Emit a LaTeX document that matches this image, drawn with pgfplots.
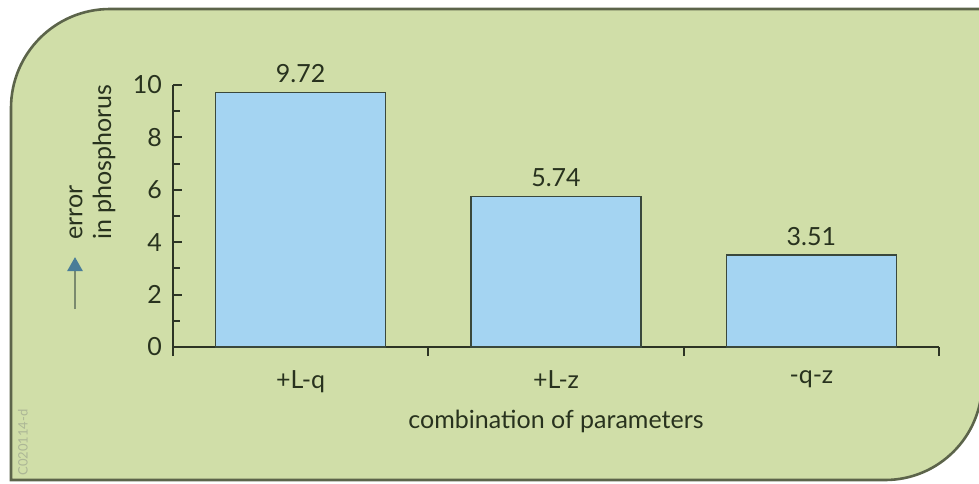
\documentclass[border=0pt]{standalone}
\usepackage{pgfplots}
\pgfplotsset{compat=1.18}
\usepackage{fontspec}
\setmainfont{Lato}
\usetikzlibrary{arrows.meta}
\definecolor{panel}{RGB}{208,222,168}
\definecolor{edge}{RGB}{92,100,74}
\definecolor{barfill}{RGB}{164,212,242}
\definecolor{bardraw}{RGB}{58,72,60}
\definecolor{axiscol}{RGB}{44,52,36}
\definecolor{txt}{RGB}{40,50,30}
\definecolor{shaft}{RGB}{122,138,110}
\definecolor{headblue}{RGB}{74,125,152}
\definecolor{stamp}{RGB}{172,182,150}
\def\lblfont{\fontsize{12.5}{14}\selectfont}
\begin{document}
\begin{tikzpicture}[x=0.5pt,y=-0.5pt]
  \path[use as bounding box] (0,0) rectangle (979,483);
  % rounded panel behind the chart
  \begin{scope}
    \clip (0,0) rectangle (979,483);
    \filldraw[fill=panel, draw=edge, line width=1.3pt]
      (11,480) -- (11,108) arc[start angle=180, end angle=270, radius=99]
      -- (982,9) -- (982,383) arc[start angle=0, end angle=90, radius=97] -- cycle;
  \end{scope}
  \begin{axis}[
      at={(86.5pt,-173.5pt)}, anchor=south west,
      scale only axis, width=383pt, height=131pt,
      xmin=-0.5, xmax=2.5, ymin=0, ymax=10,
      axis x line=bottom, axis y line=left,
      axis line style={-, draw=axiscol, line width=1.3pt},
      tick align=inside,
      tick style={draw=axiscol, line width=1pt},
      major tick length=4.5pt, minor tick length=3.5pt,
      ytick={0,2,...,10}, minor ytick={1,3,...,9},
      xtick={-0.5,0.5,1.5,2.5},
      x tick label as interval,
      xticklabels={+L-q,+L-z,-q-z},
      /pgf/number format/assume math mode=true,
      tick label style={font=\lblfont, text=txt},
      yticklabel style={xshift=-2pt},
      xticklabel style={yshift=-4pt},
      xlabel={combination of parameters},
      xlabel style={font=\lblfont, text=txt, at={(axis description cs:0.5,0)}, anchor=center, yshift=-37pt},
      ybar, bar width=85pt,
      nodes near coords={\pgfmathprintnumber[fixed,fixed zerofill,precision=2]{\pgfplotspointmeta}},
      every node near coord/.append style={font=\lblfont, text=txt, yshift=1pt},
      clip=false,
    ]
    \addplot[fill=barfill, draw=bardraw, line width=0.8pt] coordinates {
      (0,9.72)
      (1,5.74)
      (2,3.51)
    };
  \end{axis}
  % y label with arrow
  \node[rotate=90, anchor=west, inner sep=0pt, font=\lblfont, text=txt] at (76,240) {error};
  \node[rotate=90, anchor=west, inner sep=0pt, font=\lblfont, text=txt] at (104,240) {in phosphorus};
  \draw[shaft, line width=1.3pt, -{Triangle[length=7pt, width=7.5pt, color=headblue]}] (75,309) -- (75,257);
  % stamp
  \node[rotate=90, anchor=west, inner sep=0pt, font=\fontsize{6.5}{7}\selectfont, text=stamp] at (23,476) {C020114-d};
\end{tikzpicture}
\end{document}
